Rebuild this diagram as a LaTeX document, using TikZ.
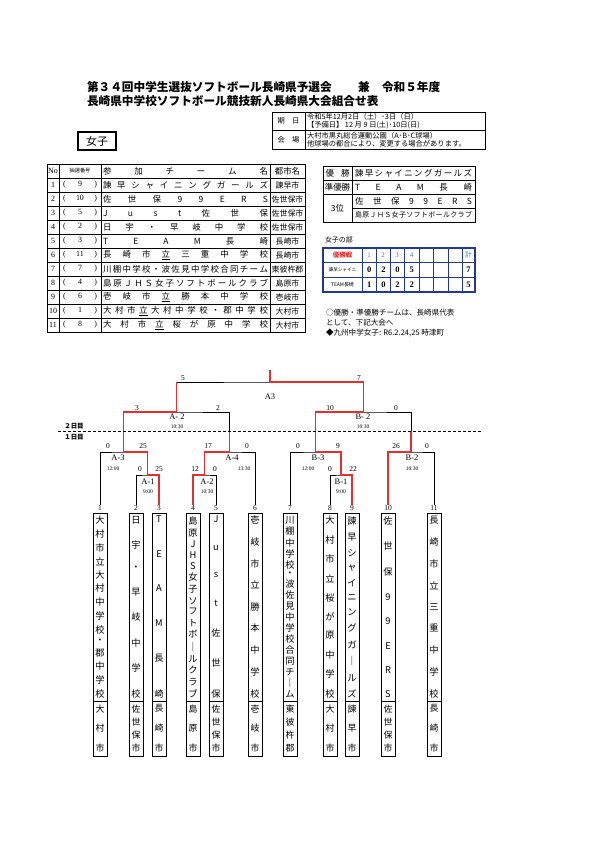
\documentclass[tikz,border=0pt]{standalone}
\usepackage{fontspec}
\setmainfont{Noto Sans CJK JP}
\newfontfamily\rom{Liberation Serif}
\usetikzlibrary{calc}
\definecolor{bred}{RGB}{226,48,48}
\definecolor{tblue}{RGB}{35,55,150}
\definecolor{nblue}{RGB}{60,120,200}
\newcommand\spr[2]{\hbox to #1{\foreach \c [count=\i] in {#2}{\ifnum\i>1 \hfill\fi\c}}}
\newcommand\vspr[2]{\vbox to #1{\offinterlineskip\foreach \c [count=\i] in {#2}{\ifnum\i>1 \vfill\fi\hbox to 12bp{\hss\c\hss}}}}
\begin{document}
\begin{tikzpicture}[x=1bp,y=-1bp,
  every node/.style={inner sep=0pt,outer sep=0pt},
  tgrid/.style={line width=0.5pt},
  tframe/.style={line width=0.9pt},
  br/.style={line width=0.9pt,black},
  win/.style={line width=1.2pt,bred},
  ttl/.style={font=\fontsize{11.7}{12}\selectfont\bfseries},
  info/.style={font=\fontsize{7.3}{8}\selectfont},
  tcell/.style={font=\fontsize{8.5}{9}\selectfont},
  rnum/.style={font=\rom\fontsize{8}{9}\selectfont},
  sc/.style={font=\rom\fontsize{7.5}{8}\selectfont},
  lab/.style={font=\rom\fontsize{8.5}{9}\selectfont},
  tim/.style={font=\rom\fontsize{5.5}{6}\selectfont},
  tno/.style={font=\rom\fontsize{7.5}{8}\selectfont},
  nbox/.style={draw,line width=1pt,minimum width=14bp,minimum height=188bp,font=\fontsize{9.3}{10}\selectfont},
  cbox/.style={draw,line width=1pt,minimum width=14bp,minimum height=55bp,font=\fontsize{9}{10}\selectfont},
  scd/.style={font=\rom\bfseries\fontsize{8.5}{9}\selectfont},
]
\useasboundingbox (0,0) rectangle (595,842);
\fill[white] (0,0) rectangle (595,842);

% ---------- title ----------
\node[ttl,anchor=west] (t1) at (87,87) {第３４回中学生選抜ソフトボール長崎県予選会};
\node[ttl] (t1b) at (364,87) {兼};
\node[ttl,anchor=west] (t1c) at (382,87) {令和５年度};
\node[ttl,anchor=west] (t2) at (87,101) {長崎県中学校ソフトボール競技新人長崎県大会組合せ表};

% ---------- info box ----------
\draw[tframe] (272,112) rectangle (485,149);
\draw[tgrid] (305,112) -- (305,149) (272,130.5) -- (485,130.5);
\node[info] (kd) at (288.5,121) {期　日};
\node[info] (kj) at (288.5,140) {会　場};
\node[info,anchor=west] (i1) at (307,116.8) {令和5年12月2日（土）･3日（日）};
\node[info,anchor=west] (i2) at (307,125.5) {【予備日】 12 月 9 日(土)･10日(日)};
\node[info,anchor=west] (i3) at (307,135.5) {大村市黒丸総合運動公園（A･B･C球場）};
\node[info,anchor=west] (i4) at (307,144.2) {他球場の都合により、変更する場合があります。};

% ---------- joshi box ----------
\node[draw,line width=1.4pt,minimum width=38bp,minimum height=18bp,font=\fontsize{11}{12}\selectfont] (joshi) at (97,141) {女子};

% ---------- team table ----------
\draw[tframe] (47,164) rectangle (305,332);
\foreach \yy in {178,192,...,318} \draw[tgrid] (47,\yy) -- (305,\yy);
\foreach \xx in {59,101,270} \draw[tgrid] (\xx,164) -- (\xx,332);
\node[rnum] (hno) at (53,171) {No};
\node[font=\fontsize{5.2}{6}\selectfont] (hdraw) at (80,171) {抽選番号};
\node[tcell,anchor=west] (hteam) at (103,171) {\spr{165bp}{参,加,チ,ー,ム,名}};
\node[tcell] (hcity) at (287.5,171) {都市名};
\foreach \k/\p/\ct in {1/9/諫早市,2/10/佐世保市,3/5/佐世保市,4/2/佐世保市,5/3/長崎市,6/11/長崎市,7/7/東彼杵郡,8/4/島原市,9/6/壱岐市,10/1/大村市,11/8/大村市}{
  \node[rnum] (no\k) at (53,{171+14*\k}) {\k};
  \node[rnum] (pn\k) at (80,{171+14*\k}) {\hbox to 34bp{(\hfill\p\hfill)}};
  \node[font=\fontsize{8}{9}\selectfont] (ct\k) at (287.5,{171+14*\k}) {\ct};
}
\node[tcell,anchor=west] (nm1) at (103,185) {\spr{165bp}{諫,早,シ,ャ,イ,ニ,ン,グ,ガ,ー,ル,ズ}};
\node[tcell,anchor=west] (nm2) at (103,199) {\spr{165bp}{佐,世,保,9,9,E,R,S}};
\node[tcell,anchor=west] (nm3) at (103,213) {\spr{165bp}{J,u,s,t,佐,世,保}};
\node[tcell,anchor=west] (nm4) at (103,227) {\spr{165bp}{日,宇,・,早,岐,中,学,校}};
\node[tcell,anchor=west] (nm5) at (103,241) {\spr{165bp}{T,E,A,M,長,崎}};
\node[tcell,anchor=west] (nm6) at (103,255) {\spr{165bp}{長,崎,市,\underline{立},三,重,中,学,校}};
\node[tcell,anchor=west] (nm7) at (103,269) {\spr{165bp}{川,棚,中,学,校,・,波,佐,見,中,学,校,合,同,チ,ー,ム}};
\node[tcell,anchor=west] (nm8) at (103,283) {\spr{165bp}{島,原,Ｊ,Ｈ,Ｓ,女,子,ソ,フ,ト,ボ,ー,ル,ク,ラ,ブ}};
\node[tcell,anchor=west] (nm9) at (103,297) {\spr{165bp}{壱,岐,市,\underline{立},勝,本,中,学,校}};
\node[tcell,anchor=west] (nm10) at (103,311) {\spr{165bp}{大,村,市,\underline{立},大,村,中,学,校,・,郡,中,学,校}};
\node[tcell,anchor=west] (nm11) at (103,325) {\spr{165bp}{大,村,市,\underline{立},桜,が,原,中,学,校}};

% ---------- result table ----------
\draw[tframe] (323,166) rectangle (475,222);
\draw[tgrid] (352,166) -- (352,222) (323,180) -- (475,180) (323,194) -- (475,194) (352,208) -- (475,208);
\node[tcell] (ra1) at (337.5,173) {\spr{24bp}{優,勝}};
\node[tcell] (ra2) at (337.5,187) {準優勝};
\node[tcell] (ra3) at (337.5,208) {3位};
\node[tcell,anchor=west] (rb1) at (355,173) {\spr{117bp}{諫,早,シ,ャ,イ,ニ,ン,グ,ガ,ー,ル,ズ}};
\node[tcell,anchor=west] (rb2) at (355,187) {\spr{117bp}{T,E,A,M,長,崎}};
\node[tcell,anchor=west] (rb3) at (355,201) {\spr{117bp}{佐,世,保,9,9,E,R,S}};
\node[font=\fontsize{7}{7}\selectfont,anchor=west] (rb4) at (355,215) {\spr{117bp}{島,原,Ｊ,Ｈ,Ｓ,女,子,ソ,フ,ト,ボ,ー,ル,ク,ラ,ブ}};

% ---------- score table ----------
\node[font=\fontsize{7}{8}\selectfont,anchor=west] (bu) at (325,240) {女子の部};
\draw[line width=0.5pt,tblue] (323,262) -- (475,262) (323,277) -- (475,277);
\foreach \xx in {362,376,390,404,419,433,448,462} \draw[line width=0.5pt,tblue] (\xx,248) -- (\xx,292);
\draw[line width=1.6pt,tblue] (323,248) rectangle (475,292);
\node[font=\fontsize{6.5}{7}\selectfont\bfseries,text=bred] (sh) at (342.5,255) {優勝戦};
\foreach \n/\xx in {1/369,2/383,3/397,4/411.5}
  \node[font=\rom\fontsize{7}{8}\selectfont,text=nblue] (sn\n) at (\xx,255) {\n};
\node[font=\fontsize{7}{8}\selectfont,text=nblue] (skei) at (468.5,255) {計};
\node[font=\fontsize{4.6}{5}\selectfont] (sr1) at (342.5,269.5) {諫早シャイニ};
\node[font=\fontsize{5}{5}\selectfont] (sr2) at (342.5,284.5) {TEAM長崎};
\foreach \v [count=\n] in {0,2,0,5} \node[scd] (sa\n) at ({355+14.2*\n},269.5) {\v};
\foreach \v [count=\n] in {1,0,2,2} \node[scd] (sb\n) at ({355+14.2*\n},284.5) {\v};
\node[scd] (sat) at (468.5,269.5) {7};
\node[scd] (sbt) at (468.5,284.5) {5};

% ---------- notes ----------
\node[font=\fontsize{7.6}{8}\selectfont,anchor=west] (nt1) at (326,313) {○優勝・準優勝チームは、長崎県代表};
\node[font=\fontsize{7.6}{8}\selectfont,anchor=west] (nt2) at (326,323) {として、下記大会へ};
\node[font=\fontsize{7.6}{8}\selectfont,anchor=west] (nt3) at (326,333) {◆九州中学女子: R6.2.24,25 時津町};

% ---------- bracket coordinates ----------
\coordinate (t1) at (100,505);  \coordinate (t2) at (136,505);
\coordinate (t3) at (159,505);  \coordinate (t4) at (193,505);
\coordinate (t5) at (216,505);  \coordinate (t6) at (255,505);
\coordinate (t7) at (290,505);  \coordinate (t8) at (330,505);
\coordinate (t9) at (352,505);  \coordinate (t10) at (388,505);
\coordinate (t11) at (434,505);
\coordinate (a1) at (147.5,475); \coordinate (a2s) at (204.5,475); \coordinate (b1) at (341,475);
\coordinate (a3) at (123.75,452); \coordinate (a4) at (229.75,452);
\coordinate (b3) at (315.5,452); \coordinate (b2s) at (411,452);
\coordinate (a2) at (176.75,412); \coordinate (b2) at (363.25,412);
\coordinate (fin) at (270,382); \coordinate (top) at (270,370);
\coordinate (day) at (0,431);

% black bracket
\draw[br] (t2) |- (a1) -| (t3);
\draw[br] (t4) |- (a2s) -| (t5);
\draw[br] (t8) |- (b1) -| (t9);
\draw[br] (t1) |- (a3) -| (a1);
\draw[br] (a2s) |- (a4) -| (t6);
\draw[br] (t7) |- (b3) -| (b1);
\draw[br] (t10) |- (b2s) -| (t11);
\draw[br] (a3) |- (a2) -| (a4);
\draw[br] (b3) |- (b2) -| (b2s);
\draw[br] (a2) |- (fin) -| (b2);
\draw[br] (fin) -- (top);

% red winner paths
\draw[win] (t3) |- (a1) |- (a3) |- (a2) -- (a2 |- fin);
\draw[win] (t9) |- (b1) |- (b3) |- (b2) |- (fin) -- (top);
\draw[win] (t4) |- (a2s) |- (a4) -- (a4 |- day);
\draw[win] (t10) |- (b2s) -- (b2s |- day);

% day divider
\coordinate (dl) at (58,431); \coordinate (dr) at (482,431);
\draw[line width=0.8pt,dash pattern=on 3bp off 2bp] (dl) -- (dr);
\node[font=\fontsize{6.5}{7}\selectfont\bfseries] (d2) at (74,426) {２日目};
\node[font=\fontsize{6.5}{7}\selectfont\bfseries] (d1) at (74,437) {１日目};

% scores
\node[sc] (s1l) at (183,378) {5};   \node[sc] (s1r) at (359,378) {7};
\node[sc] (s2a) at (137,408) {3};   \node[sc] (s2b) at (218,408) {2};
\node[sc] (s2c) at (330,408) {10};  \node[sc] (s2d) at (396,408) {0};
\node[sc] (s3a) at (108,446) {0};   \node[sc] (s3b) at (143,446) {25};
\node[sc] (s3c) at (208,446) {17};  \node[sc] (s3d) at (247,446) {0};
\node[sc] (s3e) at (298,446) {0};   \node[sc] (s3f) at (338,446) {9};
\node[sc] (s3g) at (396,446) {26};  \node[sc] (s3h) at (427,446) {0};
\node[sc] (s4a) at (140,469) {0};   \node[sc] (s4b) at (159,469) {25};
\node[sc] (s4c) at (195,469) {12};  \node[sc] (s4d) at (215,469) {0};
\node[sc] (s4e) at (330,469) {0};   \node[sc] (s4f) at (353,469) {22};

% game labels
\node[lab] (gA3) at (270,397) {A3};
\node[lab] (gA2) at (177,417) {A- 2};  \node[tim] (tA2) at (177,427) {10:30};
\node[lab] (gB2) at (363,417) {B- 2};  \node[tim] (tB2) at (363,427) {10:30};
\node[lab] (gA3b) at (118,458) {A-3};  \node[tim] (tA3) at (113,469) {12:00};
\node[lab] (gA4) at (232,458) {A-4};   \node[tim] (tA4) at (244,469) {13:30};
\node[lab] (gB3) at (318,458) {B-3};   \node[tim] (tB3) at (308,469) {12:00};
\node[lab] (gB2b) at (412,458) {B-2};  \node[tim] (tB2b) at (412,469) {10:30};
\node[lab] (gA1) at (148,482) {A-1};   \node[tim] (tA1) at (148,492) {9:00};
\node[lab] (gA2b) at (207,482) {A-2};  \node[tim] (tA2b) at (207,492) {10:30};
\node[lab] (gB1) at (341,482) {B-1};   \node[tim] (tB1) at (341,492) {9:00};

% team numbers
\foreach \k/\xx in {1/100,2/136,3/159,4/193,5/216,6/255,7/290,8/330,9/352,10/388,11/434}
  \node[tno,fill=white,inner sep=0.3pt] (tn\k) at (\xx,508.5) {\k};

% team boxes
\node[nbox] (box1) at (100,607) {\vspr{181bp}{大,村,市,立,大,村,中,学,校,・,郡,中,学,校}};
\node[nbox] (box2) at (136,607) {\vspr{181bp}{日,宇,・,早,岐,中,学,校}};
\node[nbox] (box3) at (159,607) {\vspr{181bp}{T,E,A,M,長,崎}};
\node[nbox] (box4) at (193,607) {\vspr{181bp}{島,原,J,H,S,女,子,ソ,フ,ト,ボ,｜,ル,ク,ラ,ブ}};
\node[nbox] (box5) at (216,607) {\vspr{181bp}{J,u,s,t,佐,世,保}};
\node[nbox] (box6) at (255,607) {\vspr{181bp}{壱,岐,市,立,勝,本,中,学,校}};
\node[nbox] (box7) at (290,607) {\vspr{181bp}{川,棚,中,学,校,・,波,佐,見,中,学,校,合,同,チ,｜,ム}};
\node[nbox] (box8) at (330,607) {\vspr{181bp}{大,村,市,立,桜,が,原,中,学,校}};
\node[nbox] (box9) at (352,607) {\vspr{181bp}{諫,早,シ,ャ,イ,ニ,ン,グ,ガ,｜,ル,ズ}};
\node[nbox] (box10) at (388,607) {\vspr{181bp}{佐,世,保,9,9,E,R,S}};
\node[nbox] (box11) at (434,607) {\vspr{181bp}{長,崎,市,立,三,重,中,学,校}};

\node[cbox] (city1) at (100,728.5) {\vspr{47bp}{大,村,市}};
\node[cbox] (city2) at (136,728.5) {\vspr{47bp}{佐,世,保,市}};
\node[cbox] (city3) at (159,728.5) {\vspr{47bp}{長,崎,市}};
\node[cbox] (city4) at (193,728.5) {\vspr{47bp}{島,原,市}};
\node[cbox] (city5) at (216,728.5) {\vspr{47bp}{佐,世,保,市}};
\node[cbox] (city6) at (255,728.5) {\vspr{47bp}{壱,岐,市}};
\node[cbox] (city7) at (290,728.5) {\vspr{47bp}{東,彼,杵,郡}};
\node[cbox] (city8) at (330,728.5) {\vspr{47bp}{大,村,市}};
\node[cbox] (city9) at (352,728.5) {\vspr{47bp}{諫,早,市}};
\node[cbox] (city10) at (388,728.5) {\vspr{47bp}{佐,世,保,市}};
\node[cbox] (city11) at (434,728.5) {\vspr{47bp}{長,崎,市}};
\end{tikzpicture}
\end{document}
